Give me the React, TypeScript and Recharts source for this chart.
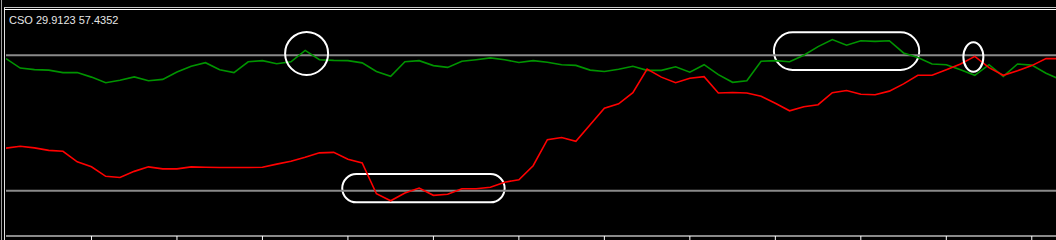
import { LineChart, Line, XAxis, YAxis, ReferenceLine, ReferenceArea, ReferenceDot } from "recharts";

// bar index along the subwindow (last one runs off the right edge)
const BARS = [
  0, 1, 2, 3, 4, 5, 6, 7, 8, 9, 10, 11, 12, 13, 14, 15, 16, 17, 18, 19, 20, 21, 22, 23, 24,
  25, 26, 27, 28, 29, 30, 31, 32, 33, 34, 35, 36, 37, 38, 39, 40, 41, 42, 43, 44, 45, 46, 47, 48, 49,
  50, 51, 52, 53, 54, 55, 56, 57, 58, 59, 60, 61, 62, 63, 64, 65, 66, 67, 68, 69, 70, 71, 72, 73, 74,
];

// green line
const FAST = [
  78.5, 74.3, 73.6, 73.4, 72.3, 72.3, 70.3, 67.8, 68.9, 70.4, 68.7, 69.3, 72.6, 75.1, 76.7,
  73.6, 72.3, 77.1, 77.6, 76.2, 77.1, 82.1, 78.0, 77.7, 77.6, 76.6, 72.8, 70.7, 77.1, 77.6,
  75.4, 74.6, 77.3, 78.0, 78.8, 78.0, 76.8, 77.6, 76.9, 75.8, 75.5, 73.4, 72.8, 73.8, 75.1,
  73.3, 73.3, 74.9, 72.5, 75.8, 71.4, 68.0, 68.7, 77.3, 77.6, 77.1, 80.0, 83.8, 86.9, 84.4,
  86.4, 86.1, 86.4, 81.0, 79.0, 76.1, 75.8, 73.6, 71.1, 75.8, 70.6, 76.1, 75.6, 72.0, 69.2,
];

// red line
const SLOW = [
  38.9, 39.7, 39.0, 37.9, 37.5, 32.8, 30.6, 26.4, 25.9, 28.6, 30.6, 29.7, 29.7, 30.6, 30.4,
  30.3, 30.3, 30.3, 30.4, 31.8, 33.1, 34.8, 36.8, 37.0, 34.0, 32.3, 18.7, 15.6, 19.0, 21.2,
  18.0, 18.5, 20.9, 20.9, 21.6, 23.8, 24.9, 31.1, 42.6, 43.6, 41.9, 49.2, 56.5, 58.5, 63.4,
  73.9, 70.3, 67.8, 69.8, 70.5, 63.3, 63.5, 63.3, 61.8, 58.7, 55.4, 57.2, 58.1, 63.4, 64.4,
  62.7, 62.5, 64.1, 67.3, 71.1, 71.1, 73.6, 76.1, 79.5, 74.5, 71.1, 73.1, 75.4, 78.5, 78.5,
];

const LEVELS = [80, 20];
const TICKS = [6, 12, 18, 24, 30, 36, 42, 48, 54, 60, 66, 72];
const TITLE = "CSO 29.9123 57.4352";

const data = BARS.map((i, k) => ({ i, fast: FAST[k], slow: SLOW[k] }));

// chart-markup: pills are [x1, x2, y1, y2], dots are [x, y]
const PILLS = [
  [23.6, 35.0, 14.9, 27.4],
  [53.9, 64.1, 73.5, 90.1],
];
const RING = [21.1, 80.8];
const OVAL = [67.9, 79.2];

const W = 1056;
const H = 240;

const pill = (p: any) => (
  <rect
    x={p.x}
    y={p.y}
    width={p.width}
    height={p.height}
    rx={p.height / 2}
    ry={p.height / 2}
    fill="none"
    stroke="#fff"
    strokeWidth={2}
  />
);

const oval = (p: any) => (
  <ellipse cx={p.cx} cy={p.cy} rx={10} ry={14.7} fill="none" stroke="#fff" strokeWidth={2} />
);

// tick marks only, the reference has no time labels
const noLabel = () => <g />;

export default function App() {
  return (
    <div style={{ position: "absolute", left: 0, top: 0, width: W, height: H, background: "#000", overflow: "hidden" }}>
      {/* window frame */}
      <div style={{ position: "absolute", left: 1, top: 0, width: 1, height: H, background: "#a0a0a0" }} />
      <div style={{ position: "absolute", left: 4, top: 7, width: 1, height: H, background: "#e0e0e0" }} />
      <div style={{ position: "absolute", left: 4, top: 7, width: W, height: 1, background: "#c8c8c8" }} />
      <div style={{ position: "absolute", left: 4, top: 9, width: W, height: 1, background: "#ffffff" }} />

      <LineChart width={W} height={H} data={data} margin={{ top: 10, right: 0, bottom: 0, left: 6 }}>
        <XAxis
          type="number"
          dataKey="i"
          domain={[0, 73.7]}
          allowDataOverflow
          ticks={TICKS}
          tick={noLabel}
          height={4}
          tickSize={4}
          tickLine={{ stroke: "#fff", strokeWidth: 1 }}
          axisLine={{ stroke: "#8a8a8a", strokeWidth: 2 }}
        />
        <YAxis hide domain={[0, 100]} allowDataOverflow />
        {LEVELS.map((v) => (
          <ReferenceLine key={v} y={v} stroke="#8a8a8a" strokeWidth={2} />
        ))}
        <Line type="linear" dataKey="fast" stroke="#009400" strokeWidth={1.6} dot={false} isAnimationActive={false} />
        <Line type="linear" dataKey="slow" stroke="#ff0000" strokeWidth={1.6} dot={false} isAnimationActive={false} />
        {PILLS.map((p, k) => (
          <ReferenceArea key={k} x1={p[0]} x2={p[1]} y1={p[2]} y2={p[3]} shape={pill} />
        ))}
        <ReferenceDot x={RING[0]} y={RING[1]} r={21.5} fill="none" stroke="#fff" strokeWidth={2} />
        <ReferenceDot x={OVAL[0]} y={OVAL[1]} shape={oval} />
      </LineChart>

      <div
        style={{
          position: "absolute",
          left: 9,
          top: 14,
          fontFamily: "'Liberation Sans', Arial, sans-serif",
          fontSize: 11,
          color: "#e6e6e6",
          whiteSpace: "nowrap",
        }}
      >
        {TITLE}
      </div>
    </div>
  );
}
